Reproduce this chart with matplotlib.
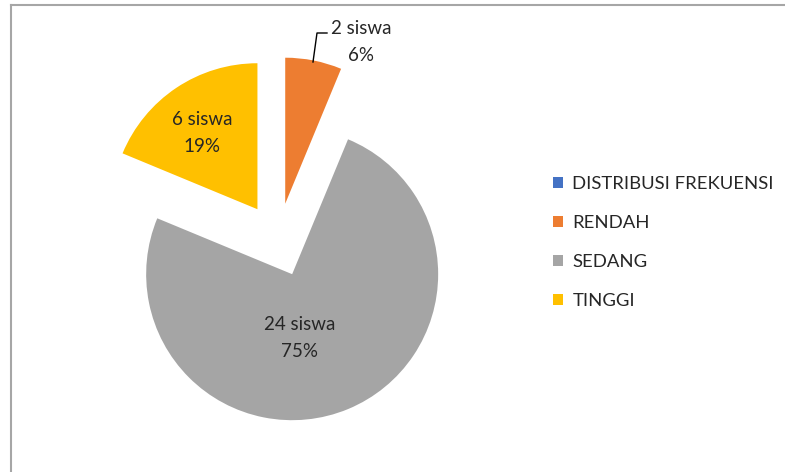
import matplotlib.pyplot as plt
from matplotlib.lines import Line2D

# data
categories = ["DISTRIBUSI FREKUENSI", "RENDAH", "SEDANG", "TINGGI"]
counts = [0, 2, 24, 6]
colors = ["#4472C4", "#ED7D31", "#A5A5A5", "#FFC000"]

W, H = 785, 472
plt.rcParams['font.family'] = ['Lato', 'DejaVu Sans']

fig = plt.figure(figsize=(W / 100, H / 100), dpi=100)
ax = fig.add_axes([0, 0, 1, 1])

cx, cy, r = 278, H - 240, 146
# explode is in data units here (radius is not 1)
wedges, _ = ax.pie(counts, colors=colors, startangle=90, counterclock=False,
                   explode=[37] * 4, radius=r, center=(cx, cy),
                   wedgeprops=dict(linewidth=0))
ax.set_xlim(0, W)
ax.set_ylim(0, H)
ax.set_aspect('equal')
ax.axis('off')

total = sum(counts)
def lbl(i):
    return f"{counts[i]} siswa\n{counts[i] / total * 100:.0f}%"

fs = 13.5
# data labels (pixel positions)
ax.text(300, H - 338, lbl(2), ha='center', va='center', fontsize=fs, linespacing=1.75, color='#262626')
ax.text(202, H - 133, lbl(3), ha='center', va='center', fontsize=fs, linespacing=1.75, color='#262626')
ax.text(361, H - 42, lbl(1), ha='center', va='center', fontsize=fs, linespacing=1.75, color='#262626')
ax.plot([313, 317, 327], [H - 62, H - 33, H - 33], color='black', lw=1)

# legend
ax.legend(wedges, categories, loc='center left', bbox_to_anchor=(553 / W, 1 - 242.5 / H),
          bbox_transform=fig.transFigure, frameon=False, fontsize=13.3,
          handlelength=0.55, handleheight=0.55, handletextpad=0.5,
          labelspacing=1.25, borderpad=0, borderaxespad=0, labelcolor='#262626')

# chart border (cropped)
fig.add_artist(Line2D([11 / W, 11 / W], [0, 1 - 5 / H], color='#A6A6A6', lw=1.5, transform=fig.transFigure))
fig.add_artist(Line2D([11 / W, 1], [1 - 5 / H, 1 - 5 / H], color='#A6A6A6', lw=1.5, transform=fig.transFigure))

fig.savefig("out.png", dpi=100)
